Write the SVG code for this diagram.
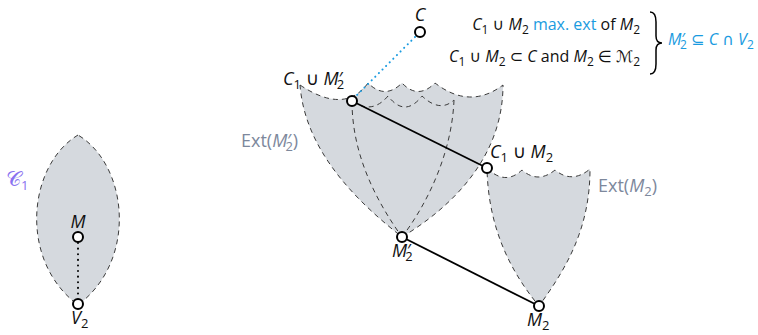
<svg xmlns="http://www.w3.org/2000/svg" width="758" height="335" viewBox="0 0 758 335">
<style>
.shape{fill:#d5d9de;stroke:none}
.dash{fill:none;stroke:#3a3a3a;stroke-width:1;stroke-dasharray:5,4}
.edge{stroke:#000;stroke-width:1.8;fill:none}
.node{fill:#fff;stroke:#000;stroke-width:2}
text{font-family:"Open Sans","DejaVu Sans",sans-serif;font-size:18px;fill:#111}
text.ann{font-size:16px}
.it{font-style:italic}
.sub{font-size:13px}
.ann .sub{font-size:12px}
.blue{fill:#1a9be0}
.gray{fill:#7d889c}
.purple{fill:#8a72f0}
</style>

<g id="leaf-C1">
<path class="shape" d="M78,135 C28,165 18,260 78,305 C138,260 128,165 78,135 Z"/>
<path class="dash" d="M78,135 C28,165 18,260 78,305 C138,260 128,165 78,135 Z"/>
<text x="6" y="186" class="purple"><tspan font-size="21">𝒞</tspan><tspan class="sub" dy="4">1</tspan></text>
</g>

<g id="ext-M2p">
<path class="shape" d="M300,85 Q345,115 368,83 Q385,100 402,83 Q418,100 435,83 Q470,110 503,85 C503,155 455,205 402,237 C355,200 305,150 300,85 Z"/>
<path class="dash" d="M300,85 Q345,115 368,83 Q385,100 402,83 Q418,100 435,83 Q470,110 503,85 C503,155 455,205 402,237 C355,200 305,150 300,85 Z"/>
<path class="dash" d="M352,101 C352,150 372,195 402,237"/>
<path class="dash" d="M454,100 C452,150 430,200 402,237"/>
<path class="dash" d="M352,101 Q372,115 388,96 Q405,118 422,96 Q440,113 454,100"/>
<text x="241" y="147" class="gray">Ext(<tspan class="it">M</tspan><tspan>′</tspan><tspan class="sub" dx="-6" dy="4">2</tspan><tspan dy="-4">)</tspan></text>
</g>

<g id="ext-M2">
<path class="shape" d="M487,168 Q505,186 522,170 Q538,184 555,170 Q572,184 590,169 C590,230 565,270 539,306 C505,265 488,220 487,168 Z"/>
<path class="dash" d="M487,168 Q505,186 522,170 Q538,184 555,170 Q572,184 590,169 C590,230 565,270 539,306 C505,265 488,220 487,168 Z"/>
<text x="598" y="192" class="gray">Ext(<tspan class="it">M</tspan><tspan class="sub" dy="4">2</tspan><tspan dy="-4">)</tspan></text>
</g>

<g id="connectors">
<line class="edge" x1="352" y1="101" x2="487" y2="168"/>
<line class="edge" x1="402" y1="237" x2="539" y2="306"/>
<line x1="415" y1="37" x2="357" y2="95" stroke="#1a9be0" stroke-width="2" stroke-linecap="round" stroke-dasharray="0.1,5"/>
<line x1="78" y1="243" x2="78" y2="299" stroke="#000" stroke-width="2" stroke-linecap="round" stroke-dasharray="0.1,5.5"/>
</g>

<g id="node-M">
<circle class="node" cx="78" cy="237" r="5"/>
<text x="78" y="228" text-anchor="middle" class="it">M</text>
</g>
<g id="node-V2">
<circle class="node" cx="78" cy="304" r="5"/>
<text x="71" y="324" class="it">V<tspan class="sub" dy="4" font-style="normal">2</tspan></text>
</g>
<g id="node-C">
<circle class="node" cx="420" cy="32" r="5"/>
<text x="420" y="21" text-anchor="middle" class="it">C</text>
</g>
<g id="node-C1M2p">
<circle class="node" cx="352" cy="101" r="5"/>
<text x="283" y="85"><tspan class="it">C</tspan><tspan class="sub" dy="4">1</tspan><tspan dy="-4"> ∪ </tspan><tspan class="it">M</tspan><tspan>′</tspan><tspan class="sub" dx="-6" dy="4">2</tspan></text>
</g>
<g id="node-C1M2">
<circle class="node" cx="487" cy="168" r="5"/>
<text x="490" y="158"><tspan class="it">C</tspan><tspan class="sub" dy="4">1</tspan><tspan dy="-4"> ∪ </tspan><tspan class="it">M</tspan><tspan class="sub" dy="4">2</tspan></text>
</g>
<g id="node-M2p">
<circle class="node" cx="402" cy="237" r="5"/>
<text x="392" y="257"><tspan class="it">M</tspan><tspan>′</tspan><tspan class="sub" dx="-6" dy="4">2</tspan></text>
</g>
<g id="node-M2">
<circle class="node" cx="539" cy="306" r="5"/>
<text x="527" y="326"><tspan class="it">M</tspan><tspan class="sub" dy="4">2</tspan></text>
</g>

<g id="annotation">
<text class="ann" x="640" y="30" text-anchor="end"><tspan class="it">C</tspan><tspan class="sub" dy="4">1</tspan><tspan dy="-4"> ∪ </tspan><tspan class="it">M</tspan><tspan class="sub" dy="4">2</tspan><tspan dy="-4" class="blue"> max. ext</tspan> of <tspan class="it">M</tspan><tspan class="sub" dy="4">2</tspan></text>
<text class="ann" x="640" y="62" text-anchor="end"><tspan class="it">C</tspan><tspan class="sub" dy="4">1</tspan><tspan dy="-4"> ∪ </tspan><tspan class="it">M</tspan><tspan class="sub" dy="4">2</tspan><tspan dy="-4"> ⊂ </tspan><tspan class="it">C</tspan> and <tspan class="it">M</tspan><tspan class="sub" dy="4">2</tspan><tspan dy="-4"> ∈ </tspan><tspan>ℳ</tspan><tspan class="sub" dy="4">2</tspan></text>
<path d="M650,12 Q656,12 656,22 L656,36 Q656,43 662,43 Q656,43 656,50 L656,64 Q656,74 650,74" fill="none" stroke="#000" stroke-width="1.5"/>
<text class="ann blue" x="668" y="45"><tspan class="it">M</tspan><tspan>′</tspan><tspan class="sub" dx="-5" dy="4">2</tspan><tspan dy="-4"> ⊆ </tspan><tspan class="it">C</tspan> ∩ <tspan class="it">V</tspan><tspan class="sub" dy="4">2</tspan></text>
</g>
</svg>
